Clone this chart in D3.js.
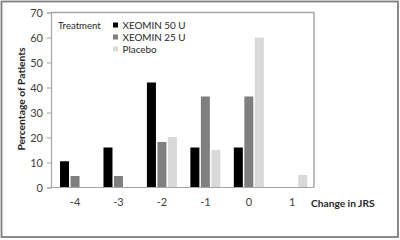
<!DOCTYPE html>
<html><head><meta charset="utf-8">
<script src="https://cdn.jsdelivr.net/npm/d3@7"></script>
<style>body{margin:0;background:#fff}svg{display:block}text{font-family:Lato,"Open Sans",sans-serif}</style>
</head><body><svg id="c" width="400" height="240"></svg>
<script>
const categories = ["-4","-3","-2","-1","0","1"];
const seriesNames = ["XEOMIN 50 U","XEOMIN 25 U","Placebo"];
const xeomin50 = [10.5, 16, 42, 16, 16, 0];
const xeomin25 = [4.6, 4.6, 18.2, 36.4, 36.4, 0];
const placebo = [0, 0, 20.2, 15, 60, 5];
const yTicks = [0,10,20,30,40,50,60,70];
const colors = ["#000000","#7f7f7f","#d9d9d9"];
const seriesValues = [xeomin50, xeomin25, placebo];

const svg = d3.select("#c");
// outer border
svg.append("rect").attr("x",1.5).attr("y",1.5).attr("width",396.5).attr("height",235.5)
  .attr("fill","none").attr("stroke","#7f7f7f").attr("stroke-width",1.8);

const x = d3.scaleBand().domain(categories).range([53.3,314]).padding(0);
const xi = d3.scaleBand().domain(seriesNames).paddingInner(0.143).paddingOuter(0);
const y = d3.scaleLinear().domain([0,70]).range([187.5,12.5]);

// plot area border (top/right)
svg.append("path").attr("d",`M51,${y(70)}H314V${y(0)}`).attr("fill","none").attr("stroke","#a6a6a6").attr("stroke-width",1.5);

// bars
categories.forEach((c,i)=>{
  const cx = x(c) + x.bandwidth()/2;
  xi.range([cx-15, cx+15]);
  seriesNames.forEach((s,j)=>{
    const v = seriesValues[j][i];
    if (v>0) svg.append("rect").attr("x",xi(s)).attr("width",xi.bandwidth())
      .attr("y",y(v)).attr("height",y(0)-y(v)).attr("fill",colors[j]);
  });
});

// y axis
const ya = svg.append("g").attr("transform","translate(51,0)")
  .call(d3.axisLeft(y).tickValues(yTicks).tickSize(4).tickPadding(4));
ya.select(".domain").attr("stroke","#a6a6a6").attr("stroke-width",1.2);
ya.selectAll(".tick line").attr("stroke","#a6a6a6");
ya.selectAll("text").attr("font-size",11).attr("fill","#404040");

// x axis
const xa = svg.append("g").attr("transform",`translate(0,${y(0)})`)
  .call(d3.axisBottom(x).tickSize(0).tickPadding(11));
xa.select(".domain").attr("d",`M51,0H314`).attr("stroke","#a6a6a6").attr("stroke-width",1.2);
xa.selectAll("text").attr("font-size",11).attr("fill","#404040");

// axis titles
svg.append("text").attr("x",311).attr("y",207).attr("font-size",10.2).attr("font-weight","bold")
  .attr("fill","#262626").text("Change in JRS");
svg.append("text").attr("transform","translate(25,99) rotate(-90)").attr("text-anchor","middle")
  .attr("font-size",10.3).attr("font-weight","bold").attr("fill","#262626").text("Percentage of Patients");

// legend
svg.append("text").attr("x",58).attr("y",28.5).attr("font-size",9.6).attr("fill","#262626").text("Treatment");
seriesNames.forEach((s,j)=>{
  const ly = 25 + j*12;
  svg.append("rect").attr("x",113).attr("y",ly-2.5).attr("width",5).attr("height",5).attr("fill",colors[j]);
  svg.append("text").attr("x",122.5).attr("y",ly+3.5).attr("font-size",9.9).attr("fill","#262626").text(s);
});
</script></body></html>
